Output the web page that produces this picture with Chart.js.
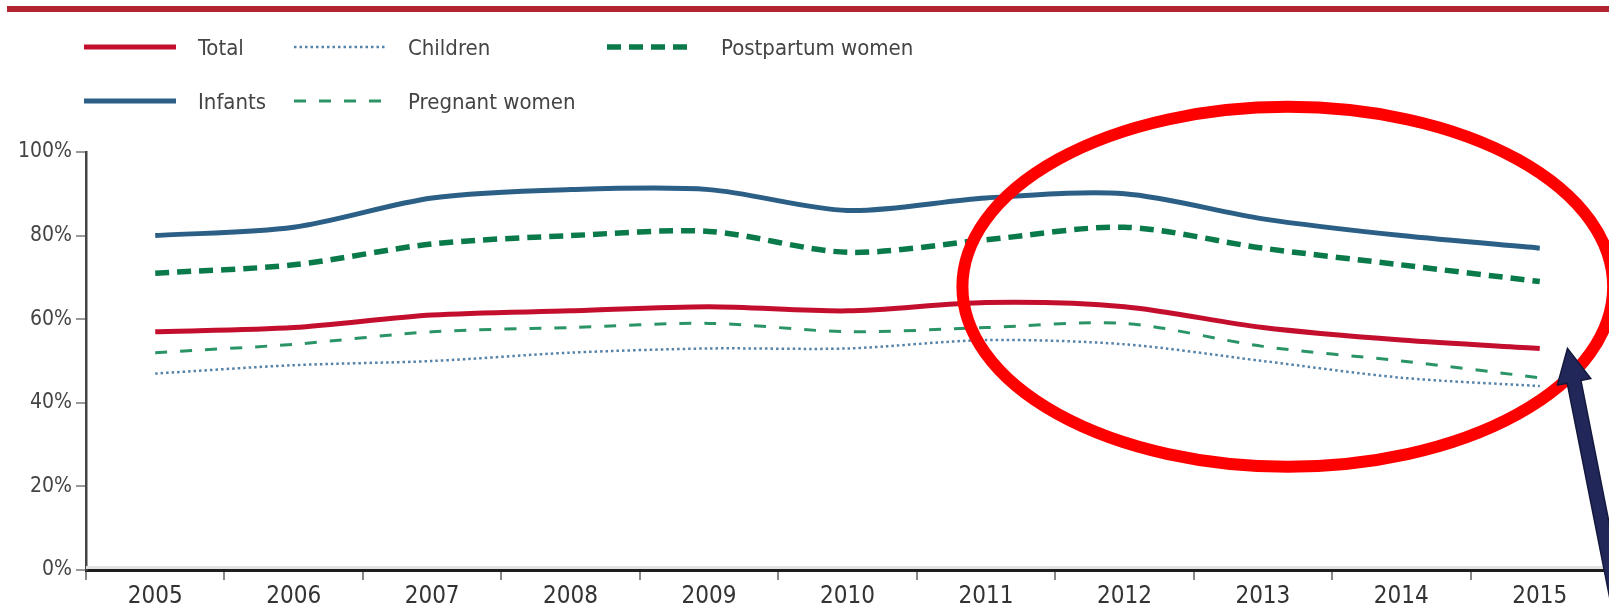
<!DOCTYPE html>
<html>
<head>
<meta charset="utf-8">
<script src="https://cdn.jsdelivr.net/npm/chart.js@4/dist/chart.umd.min.js"></script>
<style>
  html, body { margin: 0; padding: 0; background: #fff; overflow: hidden; }
  #wrap { position: relative; width: 1609px; height: 610px; }
  #topRule { position: absolute; left: 7px; right: 0; top: 6px; height: 6px; background: #b0252f; }
  #legend { position: absolute; left: 0; top: 0; }
  #chart { position: absolute; left: 0; top: 0; }
</style>
</head>
<body>
<div id="wrap">
  <div id="topRule"></div>
  <canvas id="chart" width="1609" height="610"></canvas>
  <svg id="legend" width="1000" height="130"></svg>
</div>
<script>
// Coverage share by participant group, 2005-2015
const years = ['2005', '2006', '2007', '2008', '2009', '2010', '2011', '2012', '2013', '2014', '2015'];
const total      = [57, 58, 61, 62, 63, 62, 64, 63, 58, 55, 53];
const infants    = [80, 82, 89, 91, 91, 86, 89, 90, 84, 80, 77];
const children   = [47, 49, 50, 52, 53, 53, 55, 54, 50, 46, 44];
const pregnant   = [52, 54, 57, 58, 59, 57, 58, 59, 53.5, 50, 46];
const postpartum = [71, 73, 78, 80, 81, 76, 79, 82, 77, 73, 69];
const yTicks = [0, 20, 40, 60, 80, 100];

const FONT = "'DejaVu Sans Condensed', 'DejaVu Sans', sans-serif";

const series = [
  { label: 'Total',            data: total,      color: '#c30f2d', width: 5,   dash: [] },
  { label: 'Infants',          data: infants,    color: '#2b5f86', width: 5,   dash: [] },
  { label: 'Children',         data: children,   color: '#5582a8', width: 2.5, dash: [2.5, 3] },
  { label: 'Pregnant women',   data: pregnant,   color: '#2a9467', width: 3,   dash: [12, 13] },
  { label: 'Postpartum women', data: postpartum, color: '#0a7a4a', width: 5.5, dash: [14, 8] }
];

// Legend: two rows, three columns
const legendSlots = {
  'Total':            { x: 84,  y: 47 },
  'Children':         { x: 294, y: 47 },
  'Postpartum women': { x: 607, y: 47 },
  'Infants':          { x: 84,  y: 101 },
  'Pregnant women':   { x: 294, y: 101 }
};
const svg = document.getElementById('legend');
const NS = 'http://www.w3.org/2000/svg';
series.forEach(s => {
  const p = legendSlots[s.label];
  const len = s.label === 'Postpartum women' ? 82 : 92;
  const line = document.createElementNS(NS, 'line');
  line.setAttribute('x1', p.x); line.setAttribute('x2', p.x + len);
  line.setAttribute('y1', p.y); line.setAttribute('y2', p.y);
  line.setAttribute('stroke', s.color);
  line.setAttribute('stroke-width', s.width);
  if (s.dash.length) line.setAttribute('stroke-dasharray', s.dash.join(' '));
  svg.appendChild(line);
  const t = document.createElementNS(NS, 'text');
  t.setAttribute('x', s.label === 'Postpartum women' ? p.x + 114 : p.x + 114);
  t.setAttribute('y', p.y);
  t.setAttribute('dominant-baseline', 'central');
  t.setAttribute('font-family', FONT);
  t.setAttribute('font-size', '22');
  t.setAttribute('fill', '#444');
  t.textContent = s.label;
  svg.appendChild(t);
});

// Highlight ellipse and pointer arrow, placed in data units
const callout = {
  ellipse: { xFrom: 5.83, xTo: 10.53, yFrom: 24.7, yTo: 110.8 },
  arrowTip: { x: 10.2, y: 53 }
};

const calloutPlugin = {
  id: 'callout',
  afterDraw(chart) {
    const { ctx, scales: { x, y } } = chart;
    const e = callout.ellipse;
    const ex0 = x.getPixelForValue(e.xFrom), ex1 = x.getPixelForValue(e.xTo);
    const ey0 = y.getPixelForValue(e.yTo), ey1 = y.getPixelForValue(e.yFrom);
    ctx.save();
    ctx.beginPath();
    ctx.ellipse((ex0 + ex1) / 2, (ey0 + ey1) / 2, (ex1 - ex0) / 2, (ey1 - ey0) / 2, 0, 0, Math.PI * 2);
    ctx.strokeStyle = '#ff0000';
    ctx.lineWidth = 12;
    ctx.stroke();

    // arrow pointing up-left towards the 2015 values
    const tx = x.getPixelForValue(callout.arrowTip.x);
    const ty = y.getPixelForValue(callout.arrowTip.y);
    const dx = 38, dy = 192;
    const L = Math.hypot(dx, dy);
    const ux = dx / L, uy = dy / L;      // along shaft (tip -> tail)
    const nx = -uy, ny = ux;             // perpendicular
    const headLen = 34, headHalf = 17, shaftHalf = 7, tailLen = 320;
    const bx = tx + ux * headLen, by = ty + uy * headLen;
    ctx.beginPath();
    ctx.moveTo(tx, ty);
    ctx.lineTo(bx + nx * headHalf, by + ny * headHalf);
    ctx.lineTo(bx + nx * shaftHalf, by + ny * shaftHalf);
    ctx.lineTo(tx + ux * tailLen + nx * shaftHalf, ty + uy * tailLen + ny * shaftHalf);
    ctx.lineTo(tx + ux * tailLen - nx * shaftHalf, ty + uy * tailLen - ny * shaftHalf);
    ctx.lineTo(bx - nx * shaftHalf, by - ny * shaftHalf);
    ctx.lineTo(bx - nx * headHalf, by - ny * headHalf);
    ctx.closePath();
    ctx.fillStyle = '#22275a';
    ctx.fill();
    ctx.strokeStyle = '#15183d';
    ctx.lineWidth = 1.5;
    ctx.stroke();
    ctx.restore();
  }
};

// Light rule just above the baseline
const baselinePlugin = {
  id: 'baselineShade',
  beforeDatasetsDraw(chart) {
    const { ctx, chartArea: a } = chart;
    ctx.save();
    ctx.fillStyle = '#e2e2e2';
    ctx.fillRect(a.left, a.bottom - 4, a.right - a.left, 3);
    ctx.restore();
  }
};

new Chart(document.getElementById('chart'), {
  type: 'line',
  data: {
    labels: years,
    datasets: series.map(s => ({
      label: s.label,
      data: s.data,
      borderColor: s.color,
      borderWidth: s.width,
      borderDash: s.dash,
      pointRadius: 0,
      tension: 0.3,
      fill: false
    }))
  },
  options: {
    responsive: false,
    animation: false,
    layout: { padding: { top: 152, right: 0, bottom: 0, left: 0 } },
    plugins: { legend: { display: false }, tooltip: { enabled: false } },
    scales: {
      x: {
        offset: true,
        grid: { offset: true, drawOnChartArea: false, tickLength: 10, color: '#888', lineWidth: 2 },
        border: { color: '#1e1e1e', width: 3 },
        ticks: { color: '#333', font: { family: FONT, size: 24 }, padding: 2, maxRotation: 0 },
        afterFit(scale) { scale.height = 40; }
      },
      y: {
        min: 0, max: 100,
        afterBuildTicks(scale) { scale.ticks = yTicks.map(v => ({ value: v })); },
        grid: { drawOnChartArea: false, tickLength: 10, color: '#999', lineWidth: 2 },
        border: { color: '#444', width: 2.5 },
        ticks: { color: '#444', font: { family: FONT, size: 21 }, padding: 4, callback: v => v + '%' },
        afterFit(scale) { scale.width = 86; }
      }
    }
  },
  plugins: [baselinePlugin, calloutPlugin]
});
</script>
</body>
</html>
